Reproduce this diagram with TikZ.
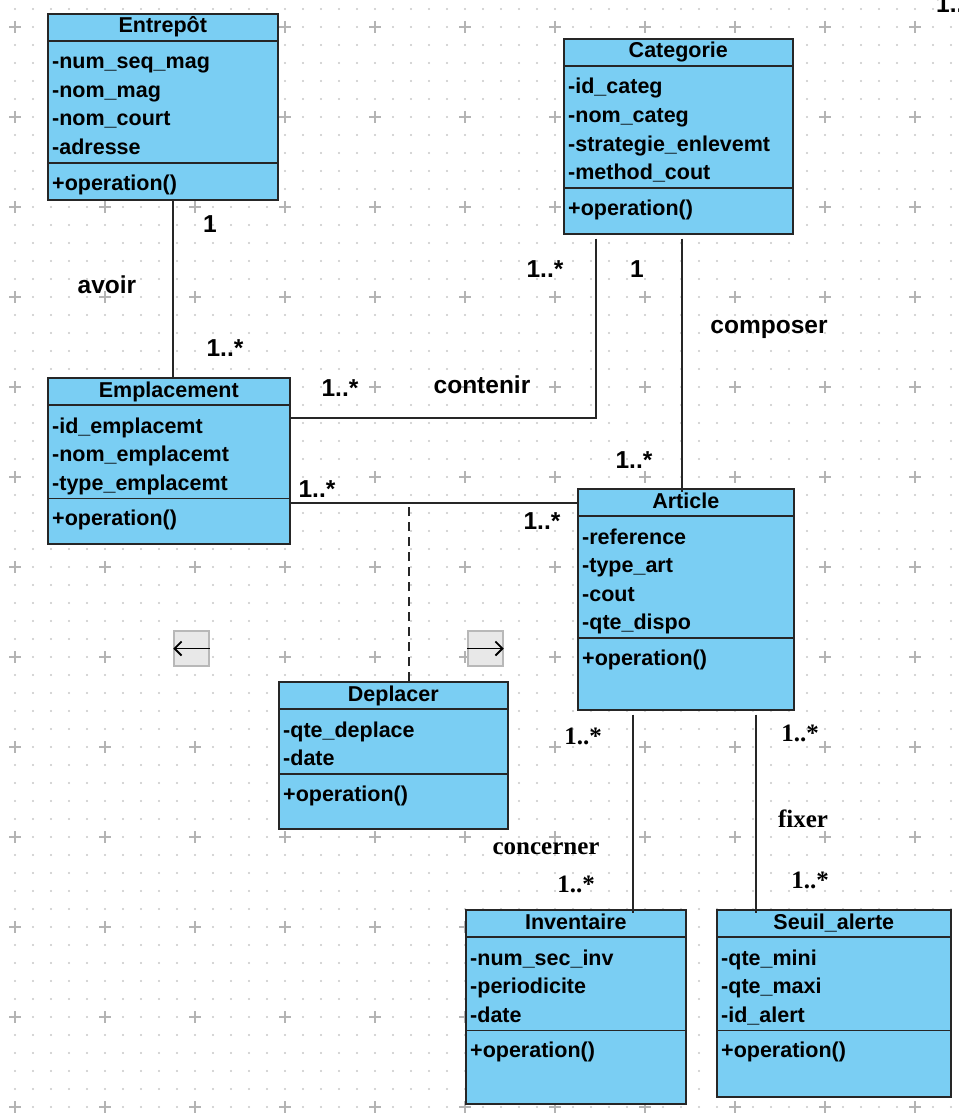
\documentclass[tikz,border=0pt]{standalone}
\usepackage{fontspec}
\setmainfont{Liberation Sans}
\newfontfamily\seriffont{Liberation Serif}
\usetikzlibrary{arrows.meta}

\definecolor{classblue}{RGB}{122,206,243}
\definecolor{dotgray}{RGB}{200,200,200}
\definecolor{crossgray}{RGB}{180,180,180}
\definecolor{btngray}{RGB}{232,232,232}

\tikzset{
  classbox/.style={draw=black!85, fill=classblue, line width=1.6pt, anchor=north west, inner sep=0pt},
  classline/.style={draw=black!85, line width=1.6pt},
  classtitle/.style={font=\fontsize{21.5}{26}\selectfont\bfseries, anchor=base, inner sep=0pt},
  classattr/.style={font=\fontsize{21.5}{26}\selectfont\bfseries, anchor=base west, inner sep=0pt},
  assoc/.style={draw=black!85, line width=1.4pt},
  mult/.style={font=\fontsize{24.5}{29}\selectfont\bfseries, anchor=base, inner sep=0pt},
  multserif/.style={font=\fontsize{25}{30}\selectfont\seriffont\bfseries, anchor=base, inner sep=0pt},
  navbtn/.style={draw=black!28, fill=btngray, line width=1.5pt, minimum size=35pt, inner sep=0pt},
}

% #1 name, #2 top left corner, #3 width, #4 height, #5 title, #6 attributes, #7 number of attributes
\newcommand{\umlclass}[7]{
  \node[classbox, minimum width=#3, minimum height=#4] (#1) at (#2) {};
  \node[classtitle] (#1-title) at ([yshift=-20pt]#1.north) {#5};
  \draw[classline] ([yshift=-28pt]#1.north west) -- ([yshift=-28pt]#1.north east);
  \foreach \attr [count=\i] in {#6}
    \node[classattr] (#1-attr\i) at ([xshift=5pt,yshift={-27.5pt-28.5pt*\i}]#1.north west) {\attr};
  \draw[classline] ([yshift={-36pt-28.5pt*#7}]#1.north west) -- ([yshift={-36pt-28.5pt*#7}]#1.north east);
  \node[classattr] (#1-op) at ([xshift=5pt,yshift={-63pt-28.5pt*#7}]#1.north west) {+operation()};
}

\begin{document}
\begin{tikzpicture}[x=1pt, y=-1pt]

\fill[white] (0,0) rectangle (958,1113);
\useasboundingbox (0,0) rectangle (958,1113);

\foreach \x in {15,33,...,951}
	\foreach \y in {9,27,...,1107}
		\fill[dotgray] (\x,\y) circle (1.1pt);
\foreach \x in {15,105,...,915}
	\foreach \y in {27,117,...,1107}
		\draw[crossgray, line width=1.4pt] (\x-6,\y) -- (\x+6,\y) (\x,\y-6) -- (\x,\y+6);

\umlclass{entrepot}{47,13}{230pt}{186pt}{Entrepôt}{-num\_seq\_mag,-nom\_mag,-nom\_court,-adresse}{4}
\umlclass{categorie}{563,38}{229pt}{195pt}{Categorie}{-id\_categ,-nom\_categ,-strategie\_enlevemt,-method\_cout}{4}
\umlclass{emplacement}{47,377}{242pt}{166pt}{Emplacement}{-id\_emplacemt,-nom\_emplacemt,-type\_emplacemt}{3}
\umlclass{article}{577,488}{216pt}{221pt}{Article}{-reference,-type\_art,-cout,-qte\_dispo}{4}
\umlclass{deplacer}{278,681}{229pt}{147pt}{Deplacer}{-qte\_deplace,-date}{2}
\umlclass{inventaire}{465,909}{220pt}{194pt}{Inventaire}{-num\_sec\_inv,-periodicite,-date}{3}
\umlclass{seuil}{716,909}{234pt}{187pt}{Seuil\_alerte}{-qte\_mini,-qte\_maxi,-id\_alert}{3}

\draw[assoc] ([xshift=10pt]entrepot.south) -- ([xshift=10pt]entrepot.south |- emplacement.north);
\draw[assoc] ([xshift=-82.5pt,yshift=-4pt]categorie.south) |- ([yshift=43pt]emplacement.east);
\draw[assoc] ([xshift=3.5pt,yshift=-4pt]categorie.south) -- ([xshift=3.5pt,yshift=-4pt]categorie.south |- article.north);
\coordinate (deplink) at ([yshift=-15pt]article.north west);
\draw[assoc] (deplink) -- (deplink -| emplacement.east);
\draw[assoc, dash pattern=on 9pt off 6pt] ([xshift=15.5pt]deplacer.north) -- ([xshift=15.5pt]deplacer.north |- deplink);
\draw[assoc] ([xshift=-53pt,yshift=-4pt]article.south) -- ([xshift=-53pt,yshift=-4pt]article.south |- inventaire.north);
\draw[assoc] ([xshift=70pt,yshift=-4pt]article.south) -- ([xshift=70pt,yshift=-4pt]article.south |- seuil.north);

\node[mult] (m1) at (210,232) {1};
\node[mult] (avoir) at (107,293) {avoir};
\node[mult] (m2) at (225,356) {1..*};
\node[mult] (m3) at (545,277) {1..*};
\node[mult] (m4) at (637,277) {1};
\node[mult] (composer) at (769,333) {composer};
\node[mult] (m5) at (634,468) {1..*};
\node[mult] (m6) at (340,396) {1..*};
\node[mult] (contenir) at (482,393) {contenir};
\node[mult] (m7) at (317,497) {1..*};
\node[mult] (m8) at (542,529) {1..*};
\node[mult, anchor=base west] (m9) at (936,13) {1..*};

\node[multserif] (m10) at (583,744) {1..*};
\node[multserif] (concerner) at (546,854) {concerner};
\node[multserif] (m11) at (576,892) {1..*};
\node[multserif] (m12) at (800,741) {1..*};
\node[multserif] (fixer) at (803,827) {fixer};
\node[multserif] (m13) at (810,888) {1..*};

\node[navbtn] (btnleft) at (191.5,648.5) {};
\node[navbtn] (btnright) at (485.5,648.5) {};
\draw[-{Straight Barb[length=7pt,width=14pt]}, line width=1.8pt] (btnleft.east) -- (btnleft.west);
\draw[-{Straight Barb[length=7pt,width=14pt]}, line width=1.8pt] (btnright.west) -- (btnright.east);

\end{tikzpicture}
\end{document}
